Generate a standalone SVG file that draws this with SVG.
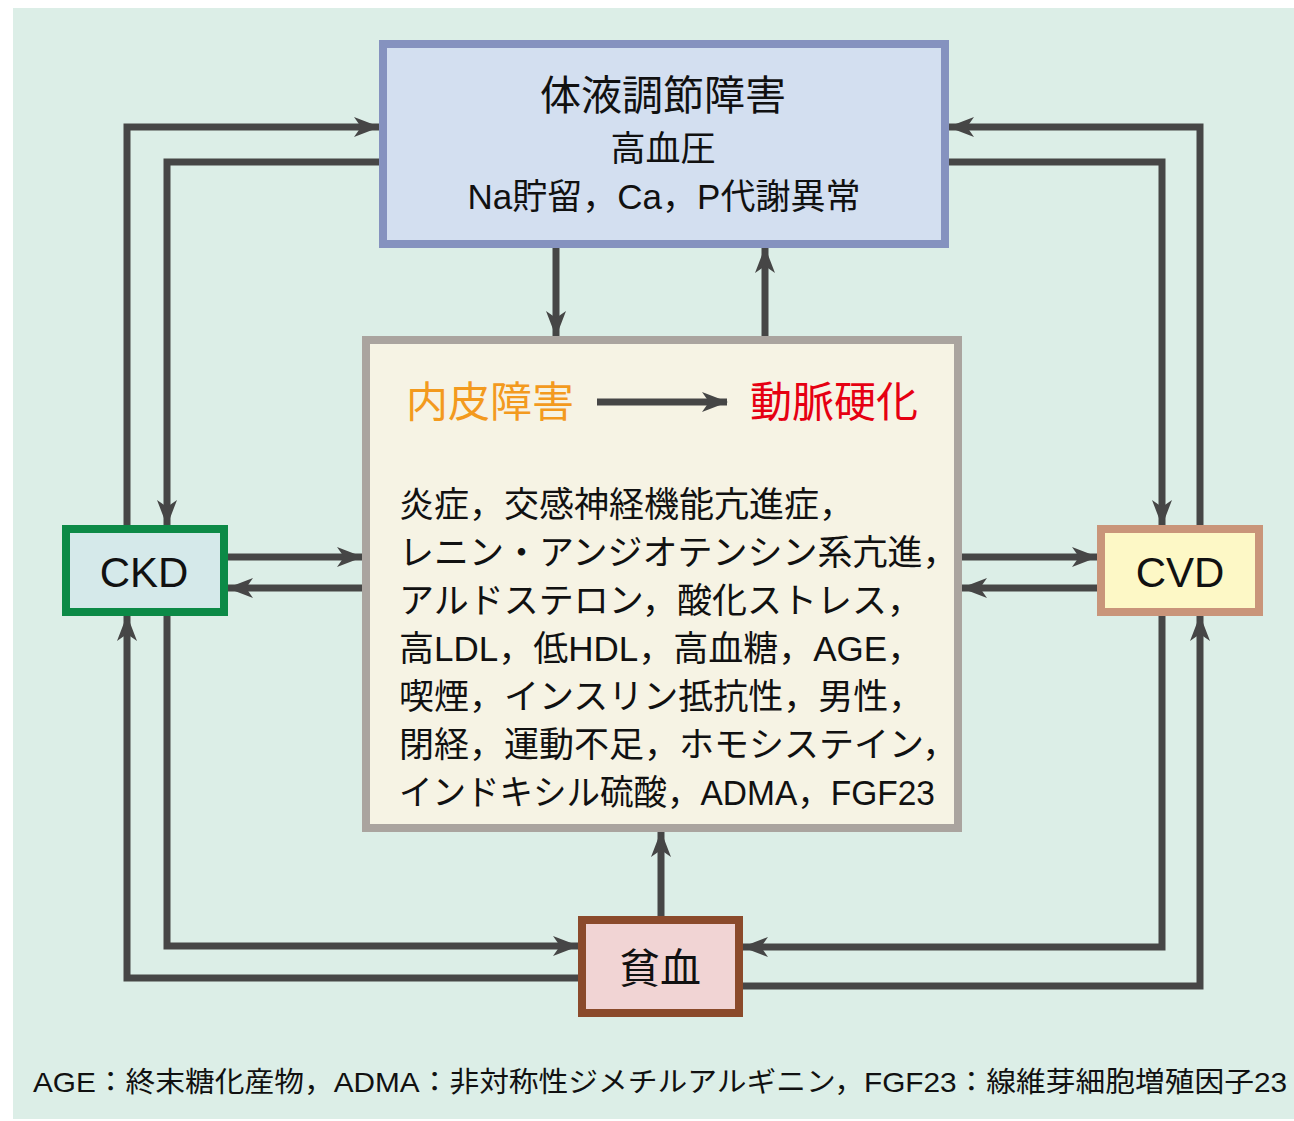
<svg xmlns="http://www.w3.org/2000/svg" width="1294" height="1121" viewBox="0 0 1294 1121">
<style>
text{font-family:"Liberation Sans","Noto Sans CJK JP",sans-serif;fill:#111}
.c{stroke:#464646;stroke-width:7;fill:none;marker-end:url(#ah)}
.b{stroke-width:8}
.m{font-size:35px}
</style>
<defs>
<marker id="ah" viewBox="0 -11 26 22" refX="25" refY="0" markerWidth="26" markerHeight="22" markerUnits="userSpaceOnUse" orient="auto">
<path d="M0,-10 L26,0 L0,10 L7,0 Z" fill="#464646"/>
</marker>
</defs>
<rect width="1294" height="1121" fill="#ffffff"/>
<rect x="13" y="8" width="1281" height="1111" fill="#dceee7"/>
<g id="connectors">
<path class="c" d="M127,525 V127 H379"/>
<path class="c" d="M379,162 H167 V525"/>
<path class="c" d="M949,162 H1162 V525"/>
<path class="c" d="M1200,525 V127 H949"/>
<path class="c" d="M556,248 V336"/>
<path class="c" d="M765,336 V248"/>
<path class="c" d="M228,557 H362"/>
<path class="c" d="M362,588 H228"/>
<path class="c" d="M962,557 H1097"/>
<path class="c" d="M1097,588 H962"/>
<path class="c" d="M167,616 V946 H578"/>
<path class="c" d="M578,978 H127 V616"/>
<path class="c" d="M1162,616 V947 H743"/>
<path class="c" d="M743,986 H1200 V616"/>
<path class="c" d="M661,916 V832"/>
</g>
<g id="top">
<rect class="b" x="383" y="44" width="562" height="200" fill="#d3dff0" stroke="#8592bf"/>
<text x="663" y="110" font-size="41" text-anchor="middle">体液調節障害</text>
<text x="663" y="161" font-size="35" text-anchor="middle">高血圧</text>
<text x="664" y="209" font-size="35" text-anchor="middle">Na貯留，Ca，P代謝異常</text>
</g>
<g id="center">
<rect class="b" x="366" y="340" width="592" height="488" fill="#f6f3e4" stroke="#aaa49f"/>
<text x="406" y="417" font-size="42" style="fill:#f39a1e">内皮障害</text>
<path class="c" d="M597,402 H727"/>
<text x="750" y="417" font-size="42" style="fill:#e60012">動脈硬化</text>
<text class="m" x="399" y="517">炎症，交感神経機能亢進症，</text>
<text class="m" x="399" y="565">レニン・アンジオテンシン系亢進，</text>
<text class="m" x="399" y="613">アルドステロン，酸化ストレス，</text>
<text class="m" x="399" y="661">高LDL，低HDL，高血糖，AGE，</text>
<text class="m" x="399" y="709">喫煙，インスリン抵抗性，男性，</text>
<text class="m" x="399" y="757">閉経，運動不足，ホモシステイン，</text>
<text class="m" x="399" y="805" textLength="536" lengthAdjust="spacingAndGlyphs">インドキシル硫酸，ADMA，FGF23</text>
</g>
<g id="ckd">
<rect class="b" x="66" y="529" width="158" height="83" fill="#d5e9ea" stroke="#0c8a47"/>
<text x="144" y="587" font-size="42" text-anchor="middle">CKD</text>
</g>
<g id="cvd">
<rect class="b" x="1101" y="529" width="158" height="83" fill="#fdf8c6" stroke="#c9957a"/>
<text x="1180" y="587" font-size="42" text-anchor="middle">CVD</text>
</g>
<g id="anemia">
<rect class="b" x="582" y="920" width="157" height="93" fill="#f1d4d4" stroke="#8b4a2b"/>
<text x="660" y="983" font-size="41" text-anchor="middle">貧血</text>
</g>
<text x="33" y="1092" font-size="28" textLength="1254" lengthAdjust="spacingAndGlyphs">AGE：終末糖化産物，ADMA：非対称性ジメチルアルギニン，FGF23：線維芽細胞増殖因子23</text>
</svg>
